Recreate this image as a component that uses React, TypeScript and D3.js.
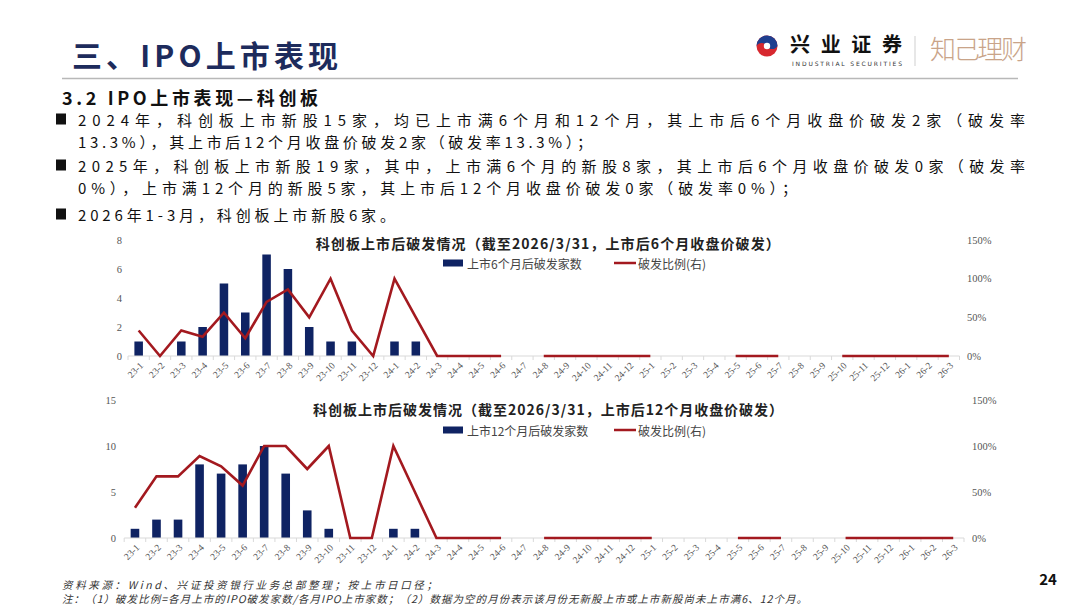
import React from "react";
import * as d3 from "d3";

const months = [
  "23-1","23-2","23-3","23-4","23-5","23-6","23-7","23-8","23-9","23-10","23-11","23-12",
  "24-1","24-2","24-3","24-4","24-5","24-6","24-7","24-8","24-9","24-10","24-11","24-12",
  "25-1","25-2","25-3","25-4","25-5","25-6","25-7","25-8","25-9","25-10","25-11","25-12",
  "26-1","26-2","26-3",
];

// 6-month chart
const count6: (number | null)[] = [
  1,0,1,2,5,3,7,6,2,1,1,0,
  1,1,0,0,0,0,null,0,0,0,0,0,
  0,null,null,null,0,0,0,null,null,0,0,0,
  0,0,0,
];
const ratio6: (number | null)[] = [
  0.33,0,0.33,0.25,0.56,0.23,0.70,0.86,0.50,1.00,0.33,0,
  1.00,0.50,0,0,0,0,null,0,0,0,0,0,
  0,null,null,null,0,0,0,null,null,0,0,0,
  0,0,0,
];

// 12-month chart
const count12: (number | null)[] = [
  1,2,2,8,7,8,10,7,3,1,0,0,
  1,1,0,0,0,0,null,0,0,0,0,0,
  0,null,null,null,0,0,0,null,null,0,0,0,
  0,0,0,
];
const ratio12: (number | null)[] = [
  0.33,0.67,0.67,0.89,0.78,0.57,1.00,1.00,0.75,1.00,0,0,
  1.00,0.50,0,0,0,0,null,0,0,0,0,0,
  0,null,null,null,0,0,0,null,null,0,0,0,
  0,0,0,
];

const leftTicks6 = [0, 2, 4, 6, 8];
const leftTicks12 = [0, 5, 10, 15];
const rightTicks = [0, 0.5, 1, 1.5];

const title6 = "科创板上市后破发情况（截至2026/3/31，上市后6个月收盘价破发）";
const title12 = "科创板上市后破发情况（截至2026/3/31，上市后12个月收盘价破发）";
const legendBar6 = "上市6个月后破发家数";
const legendBar12 = "上市12个月后破发家数";
const legendLine = "破发比例(右)";

const bullets = [
  { lines: ["2024年，科创板上市新股15家，均已上市满6个月和12个月，其上市后6个月收盘价破发2家（破发率", "13.3%），其上市后12个月收盘价破发2家（破发率13.3%）；"] },
  { lines: ["2025年，科创板上市新股19家，其中，上市满6个月的新股8家，其上市后6个月收盘价破发0家（破发率", "0%），上市满12个月的新股5家，其上市后12个月收盘价破发0家（破发率0%）；"] },
  { lines: ["2026年1-3月，科创板上市新股6家。"] },
];

const BAR = "#0f2363";
const LINE = "#a3191f";
const SERIF = "'Liberation Serif', 'Times New Roman', serif";
const CJK = "'Noto Sans CJK SC', 'Noto Sans', sans-serif";

type ChartProps = {
  counts: (number | null)[];
  ratios: (number | null)[];
  x0: number; x1: number; yTop: number; yBot: number;
  maxLeft: number; leftTicks: number[];
  leftLabelX: number; rightLabelX: number;
  title: string; titleY: number; titleW: number;
  legendBar: string; legendY: number;
};

function Chart(p: ChartProps) {
  const x = d3.scaleBand<string>().domain(months).range([p.x0, p.x1]).padding(0);
  const yL = d3.scaleLinear().domain([0, p.maxLeft]).range([p.yBot, p.yTop]);
  const yR = d3.scaleLinear().domain([0, 1.5]).range([p.yBot, p.yTop]);
  const bw = x.bandwidth() * 0.4;
  const cx = (m: string) => (x(m) as number) + x.bandwidth() / 2;
  const line = d3
    .line<number | null>()
    .defined((d) => d != null)
    .x((_, i) => cx(months[i]))
    .y((d) => yR(d as number));
  return (
    <g>
      <text x={(p.x0 + p.x1) / 2 + 4} y={p.titleY} textAnchor="middle" dominantBaseline="central"
        fontFamily={CJK} fontWeight={700} fontSize={14} fill="#222"
        textLength={p.titleW} lengthAdjust="spacing">{p.title}</text>
      <rect x={443} y={p.legendY - 3.5} width={20} height={7} fill={BAR} />
      <text x={467} y={p.legendY} dominantBaseline="central" fontFamily={CJK} fontSize={12} fill="#444">{p.legendBar}</text>
      <line x1={614} x2={636} y1={p.legendY} y2={p.legendY} stroke={LINE} strokeWidth={2.5} />
      <text x={638} y={p.legendY} dominantBaseline="central" fontFamily={CJK} fontSize={12} fill="#444">{legendLine}</text>

      {p.counts.map((v, i) =>
        v != null && v > 0 ? (
          <rect key={i} x={cx(months[i]) - bw / 2} y={yL(v)} width={bw} height={yL(0) - yL(v)} fill={BAR} />
        ) : null
      )}
      <line x1={p.x0} x2={p.x1} y1={p.yBot} y2={p.yBot} stroke="#d9d9d9" strokeWidth={1} />
      {months.map((m, i) => (
        <line key={"t" + i} x1={x(m) as number} x2={x(m) as number} y1={p.yBot} y2={p.yBot + 4} stroke="#d9d9d9" />
      ))}
      <line x1={p.x1} x2={p.x1} y1={p.yBot} y2={p.yBot + 4} stroke="#d9d9d9" />
      <path d={line(p.ratios) || ""} fill="none" stroke={LINE} strokeWidth={2.6} strokeLinejoin="miter" />
      {p.leftTicks.map((t) => (
        <text key={"l" + t} x={p.leftLabelX} y={yL(t)} textAnchor="end" dominantBaseline="central"
          fontFamily={SERIF} fontSize={10.5} fill="#555">{t}</text>
      ))}
      {rightTicks.map((t) => (
        <text key={"r" + t} x={p.rightLabelX} y={yR(t)} dominantBaseline="central"
          fontFamily={SERIF} fontSize={10.5} fill="#555">{Math.round(t * 100) + "%"}</text>
      ))}
      {months.map((m) => (
        <text key={"x" + m} transform={`translate(${cx(m) + 3},${p.yBot + 8}) rotate(-45)`}
          textAnchor="end" dominantBaseline="central" fontFamily={SERIF} fontSize={9.5} fill="#555">{m}</text>
      ))}
    </g>
  );
}

export default function App() {
  const bulletWidths = [[947, 514], [947, 719], [317]];
  const bulletY = [[119, 141], [165, 187], [214]];
  return (
    <svg width={1080} height={608} style={{ display: "block", position: "absolute", left: 0, top: 0, background: "#fff" }}>
      <rect width={1080} height={608} fill="#fff" />
      {/* header */}
      <text x={72} y={54} dominantBaseline="central" fontFamily={CJK} fontWeight={700} fontSize={30}
        fill="#1d2b5c" textLength={266} lengthAdjust="spacing">三、IPO上市表现</text>
      <line x1={62} x2={1018} y1={78.5} y2={78.5} stroke="#b8b8b8" strokeWidth={1.5} />
      {/* logo */}
      <g>
        <circle cx={767} cy={46} r={10.5} fill="#d7282f" />
        <path d="M767,35.5 A10.5,10.5 0 0 1 777.5,46 A6,6 0 0 1 767,46 A6,6 0 0 0 756.5,46 A10.5,10.5 0 0 1 767,35.5 Z" fill="#1f3f8f" />
        <circle cx={767} cy={46} r={3.2} fill="#fff" />
        <text x={790} y={43} dominantBaseline="central" fontFamily={CJK} fontWeight={700} fontSize={20}
          fill="#111" textLength={112} lengthAdjust="spacing">兴业证券</text>
        <text x={792} y={63} dominantBaseline="central" fontFamily="'DejaVu Sans', sans-serif" fontSize={6}
          fill="#333" textLength={110} lengthAdjust="spacing">INDUSTRIAL SECURITIES</text>
        <line x1={915} x2={915} y1={36} y2={66} stroke="#cfcfcf" strokeWidth={1} />
        <text x={930} y={47} dominantBaseline="central" fontFamily={CJK} fontWeight={300} fontSize={26}
          fill="#c9a489" textLength={97} lengthAdjust="spacing">知己理财</text>
      </g>
      {/* subtitle */}
      <text x={62} y={97} dominantBaseline="central" fontFamily={CJK} fontWeight={700} fontSize={18}
        fill="#111" textLength={256} lengthAdjust="spacing">3.2 IPO上市表现—科创板</text>
      {bullets.map((b, bi) => (
        <g key={bi}>
          <rect x={56} y={bulletY[bi][0] - 5.5} width={10} height={11} fill="#111" />
          {b.lines.map((ln, li) => (
            <text key={li} x={78} y={bulletY[bi][li]} dominantBaseline="central" fontFamily={CJK}
              fontSize={15} fill="#111" textLength={bulletWidths[bi][li]} lengthAdjust="spacing">{ln}</text>
          ))}
        </g>
      ))}

      <Chart counts={count6} ratios={ratio6} x0={128} x1={959.5} yTop={240} yBot={356}
        maxLeft={8} leftTicks={leftTicks6} leftLabelX={122} rightLabelX={967}
        title={title6} titleY={243} titleW={464} legendBar={legendBar6} legendY={263} />
      <Chart counts={count12} ratios={ratio12} x0={124.2} x1={964} yTop={400} yBot={538}
        maxLeft={15} leftTicks={leftTicks12} leftLabelX={116} rightLabelX={972}
        title={title12} titleY={409} titleW={470} legendBar={legendBar12} legendY={430} />

      {/* footer */}
      <text x={62} y={584} dominantBaseline="central" fontFamily={CJK} fontStyle="italic" fontSize={10.5}
        fill="#333" textLength={375} lengthAdjust="spacing">资料来源：Wind、兴证投资银行业务总部整理；按上市日口径；</text>
      <text x={62} y={598} dominantBaseline="central" fontFamily={CJK} fontStyle="italic" fontSize={10.5}
        fill="#333" textLength={745} lengthAdjust="spacing">注：（1）破发比例=各月上市的IPO破发家数/各月IPO上市家数；（2）数据为空的月份表示该月份无新股上市或上市新股尚未上市满6、12个月。</text>
      <text x={1048} y={578} textAnchor="middle" dominantBaseline="central" fontFamily={CJK} fontWeight={700}
        fontSize={15} fill="#111">24</text>
    </svg>
  );
}
